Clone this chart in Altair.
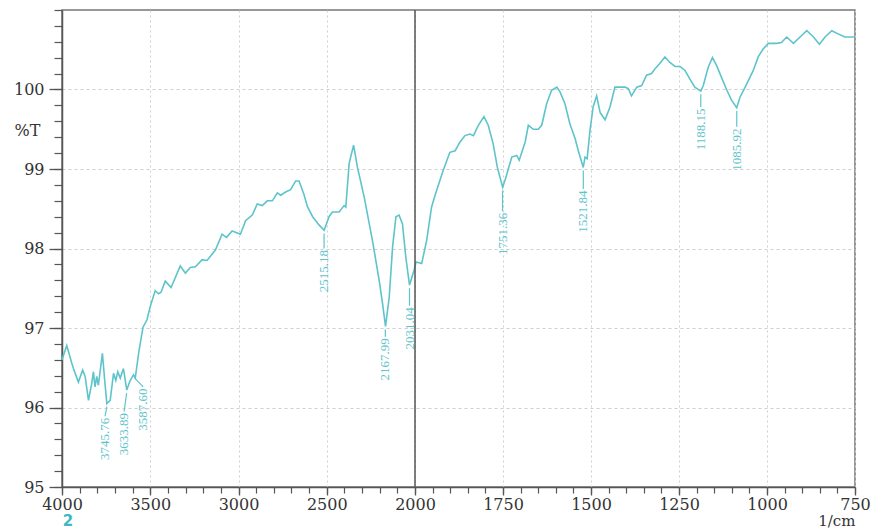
import altair as alt
import pandas as pd

# ---- spectrum (wavenumber 1/cm, %T) ----
wavenumber = [4000, 3973, 3945, 3932, 3907, 3883, 3869, 3850, 3831, 3822,
              3813, 3803, 3794, 3771, 3758, 3746, 3727, 3708, 3695, 3684,
              3670, 3652, 3633, 3614, 3595, 3585, 3566, 3541, 3519, 3500,
              3472, 3453, 3439, 3415, 3382, 3330, 3301, 3273, 3244, 3206,
              3178, 3131, 3093, 3068, 3036, 2989, 2960, 2922, 2894, 2865,
              2837, 2808, 2780, 2761, 2733, 2705, 2676, 2657, 2629, 2610,
              2580, 2545, 2515, 2487, 2468, 2430, 2402, 2392, 2373, 2348,
              2326, 2288, 2241, 2203, 2184, 2167, 2146, 2127, 2108, 2090,
              2071, 2052, 2031, 2005, 1997, 1981, 1967, 1953, 1943, 1920,
              1901, 1886, 1872, 1858, 1844, 1834, 1820, 1804, 1792, 1778,
              1766, 1751, 1744, 1735, 1725, 1711, 1704, 1687, 1678, 1664,
              1650, 1640, 1626, 1612, 1597, 1588, 1574, 1560, 1545, 1536,
              1522, 1517, 1511, 1503, 1494, 1484, 1474, 1460, 1446, 1432,
              1403, 1394, 1385, 1370, 1356, 1342, 1328, 1318, 1306, 1290,
              1276, 1261, 1247, 1233, 1219, 1205, 1188, 1181, 1167, 1155,
              1143, 1129, 1114, 1100, 1086, 1077, 1062, 1039, 1025, 1011,
              996, 973, 959, 944, 925, 906, 887, 868, 851, 835,
              816, 798, 779, 750]
transmittance = [96.60, 96.78, 96.56, 96.47, 96.32, 96.47, 96.39, 96.09, 96.31, 96.45,
                 96.26, 96.39, 96.28, 96.68, 96.34, 96.05, 96.09, 96.43, 96.34, 96.45,
                 96.37, 96.49, 96.22, 96.34, 96.41, 96.37, 96.68, 97.01, 97.10, 97.27,
                 97.47, 97.43, 97.45, 97.59, 97.51, 97.78, 97.69, 97.76, 97.77, 97.86,
                 97.85, 97.98, 98.18, 98.14, 98.22, 98.18, 98.35, 98.42, 98.56, 98.54,
                 98.60, 98.60, 98.70, 98.67, 98.71, 98.74, 98.85, 98.85, 98.68, 98.53,
                 98.40, 98.30, 98.23, 98.40, 98.46, 98.46, 98.54, 98.52, 99.07, 99.30,
                 99.02, 98.65, 98.10, 97.60, 97.31, 97.02, 97.39, 98.02, 98.40, 98.42,
                 98.31, 97.89, 97.54, 97.73, 97.83, 97.81, 98.10, 98.52, 98.67, 98.98,
                 99.21, 99.23, 99.34, 99.42, 99.44, 99.42, 99.55, 99.66, 99.55, 99.32,
                 99.02, 98.77, 98.86, 99.00, 99.15, 99.17, 99.11, 99.34, 99.55, 99.50,
                 99.50, 99.55, 99.82, 99.99, 100.03, 99.97, 99.82, 99.57, 99.38, 99.23,
                 99.02, 99.15, 99.13, 99.48, 99.78, 99.92, 99.71, 99.62, 99.78, 100.03,
                 100.03, 100.01, 99.92, 100.03, 100.05, 100.18, 100.20, 100.26, 100.32, 100.41,
                 100.34, 100.29, 100.29, 100.24, 100.13, 100.03, 99.98, 100.05, 100.28, 100.40,
                 100.30, 100.15, 99.99, 99.86, 99.77, 99.90, 100.03, 100.24, 100.41, 100.51,
                 100.58, 100.58, 100.59, 100.66, 100.58, 100.66, 100.74, 100.66, 100.57, 100.66,
                 100.74, 100.70, 100.66, 100.66]
assert len(wavenumber) == len(transmittance)

# ---- peak annotations ----
peak_text = ["3745.76", "3633.89", "3587.60", "2515.18", "2167.99",
             "2031.04", "1751.36", "1521.84", "1188.15", "1085.92"]
peak_wn = [3745.76, 3633.89, 3587.60, 2515.18, 2167.99,
           2031.04, 1751.36, 1521.84, 1188.15, 1085.92]
peak_T = [96.05, 96.22, 96.41, 98.23, 97.02, 97.54, 98.77, 99.02, 99.98, 99.77]
label_wn = [3756, 3648, 3540, 2515.18, 2167.99, 2031.04, 1751.36, 1521.84, 1188.15, 1085.92]
label_T = [95.87, 95.93, 96.24, 97.98, 96.87, 97.26, 98.45, 98.73, 99.76, 99.51]

# ---- axis ticks ----
x_major = [4000, 3500, 3000, 2500, 2000, 1750, 1500, 1250, 1000, 750]
x_minor = [4000, 3900, 3800, 3700, 3600, 3500, 3400, 3300, 3200, 3100, 3000,
           2900, 2800, 2700, 2600, 2500, 2400, 2300, 2200, 2100, 2000,
           1950, 1900, 1850, 1800, 1750, 1700, 1650, 1600, 1550, 1500, 1450,
           1400, 1350, 1300, 1250, 1200, 1150, 1100, 1050, 1000, 950, 900,
           850, 800, 750]
y_major = [95, 96, 97, 98, 99, 100]
y_minor = [95.0, 95.2, 95.4, 95.6, 95.8, 96.0, 96.2, 96.4, 96.6, 96.8, 97.0,
           97.2, 97.4, 97.6, 97.8, 98.0, 98.2, 98.4, 98.6, 98.8, 99.0, 99.2,
           99.4, 99.6, 99.8, 100.0, 100.2, 100.4, 100.6, 100.8, 101.0]

LINE = "#5ec4cb"
TXT = "#333333"
AX = "#555555"
SERIF = "DejaVu Serif"

df = pd.DataFrame({"wn": wavenumber, "T": transmittance})
peaks = pd.DataFrame({"text": peak_text, "wn": peak_wn, "T": peak_T,
                      "label_wn": label_wn, "label_T": label_T})
peaks["lead_top"] = peaks["T"] - 0.04
peaks["lead_bot"] = peaks["label_T"] + 0.02

W, H = 793, 477
xscale = alt.Scale(domain=[4000, 2000, 750], range=[0, 353, W], nice=False, zero=False)
yscale = alt.Scale(domain=[95, 101], nice=False, zero=False)

line = alt.Chart(df).mark_line(color=LINE, strokeWidth=1.6).encode(
    x=alt.X("wn:Q", scale=xscale, axis=alt.Axis(
        orient="bottom", values=x_major, format="d", title="1/cm",
        titleX=W, titleY=38, titleAlign="right", titleBaseline="alphabetic",
        titleFont=SERIF, titleFontSize=15, titleFontWeight="normal", titleColor=TXT,
        labelFont=SERIF, labelFontSize=16, labelColor=TXT, labelPadding=1,
        labelFlush=False, labelOverlap=False,
        tickSize=8, tickColor=AX, tickWidth=1.3,
        domainColor=AX, domainWidth=1.5,
        grid=True, gridColor="#cfcfcf", gridDash=[2, 3], gridWidth=1)),
    y=alt.Y("T:Q", scale=yscale, axis=alt.Axis(
        orient="left", values=y_major, title="%T",
        titleAngle=0, titleX=-35, titleY=120, titleAlign="center", titleBaseline="middle",
        titleFont=SERIF, titleFontSize=16, titleFontWeight="normal", titleColor=TXT,
        labelFont=SERIF, labelFontSize=16, labelColor=TXT, labelPadding=5,
        tickSize=13, tickColor=AX, tickWidth=1.3,
        domainColor=AX, domainWidth=1.5,
        grid=True, gridColor="#cfcfcf", gridDash=[3, 3], gridWidth=1)),
)

minor = alt.Chart(df).mark_line(opacity=0).encode(
    x=alt.X("wn:Q", scale=xscale, axis=alt.Axis(
        orient="bottom", values=x_minor, labels=False, title=None, grid=False,
        domain=False, tickSize=6, tickColor=AX, tickWidth=1.2)),
    y=alt.Y("T:Q", scale=yscale, axis=alt.Axis(
        orient="left", values=y_minor, labels=False, title=None, grid=False,
        domain=False, tickSize=8, tickColor=AX, tickWidth=1.2)),
)

divider = alt.Chart(pd.DataFrame({"wn": [2000]})).mark_rule(
    color=AX, strokeWidth=1.5).encode(
    x=alt.X("wn:Q", scale=xscale, axis=None))

leaders = alt.Chart(peaks).mark_rule(color=LINE, strokeWidth=1.2).encode(
    x=alt.X("wn:Q", scale=xscale, axis=None),
    y=alt.Y("lead_top:Q", scale=yscale, axis=None),
    x2="label_wn:Q",
    y2="lead_bot:Q",
)

labels = alt.Chart(peaks).mark_text(
    angle=270, align="right", baseline="middle",
    font="Liberation Serif", fontSize=13, color=LINE).encode(
    x=alt.X("label_wn:Q", scale=xscale, axis=None),
    y=alt.Y("label_T:Q", scale=yscale, axis=None),
    text="text:N",
)

corner = alt.Chart(pd.DataFrame({"wn": [4000], "T": [95], "t": ["2"]})).mark_text(
    dx=6, dy=34, align="center", baseline="middle",
    font="DejaVu Sans", fontSize=15, fontWeight="bold", color="#3fb6c2").encode(
    x=alt.X("wn:Q", scale=xscale, axis=None),
    y=alt.Y("T:Q", scale=yscale, axis=None),
    text="t:N",
)

chart = alt.layer(minor, line, divider, leaders, labels, corner).resolve_axis(
    x="independent", y="independent"
).properties(
    width=W, height=H,
    autosize=alt.AutoSizeParams(type="none"),
    padding={"left": 62, "top": 10, "right": 21, "bottom": 43},
    background="white",
).configure_view(stroke="#777777", strokeWidth=1.5)

chart.save("out.html", embed_options={"renderer": "svg", "actions": False})
